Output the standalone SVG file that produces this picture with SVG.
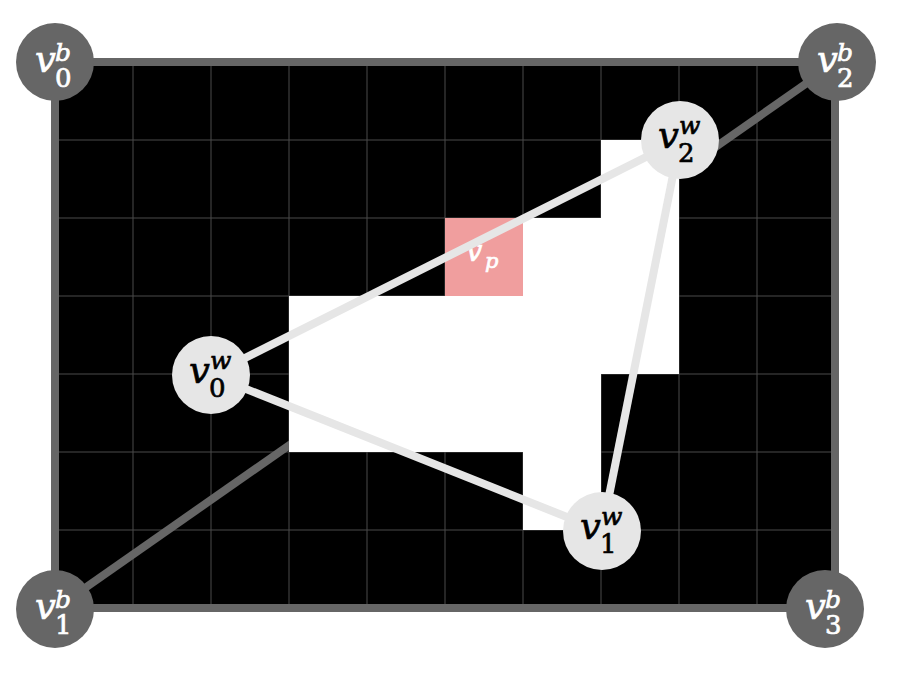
<svg xmlns="http://www.w3.org/2000/svg" width="902" height="676" viewBox="0 0 902 676">
<style>
.grid line{stroke:#4a4a4a;stroke-width:1}
.dk{fill:#666666}
.lt{fill:#e6e6e6}
.v{font-style:italic;font-size:37px}
.sup{font-style:italic;font-size:25px}
.sub{font-size:26px}
.wt{fill:#ffffff;stroke:#ffffff;stroke-width:0.7}
.bk{fill:#000000;stroke:#000000;stroke-width:0.7}
.edge-d{stroke:#666666;stroke-width:8;fill:none}
.edge-l{stroke:#e6e6e6;stroke-width:8;fill:none}
</style>
<defs>
<path id="cells" d="M601 140H679V374H601V530H523V452H289V296H445V218H601Z"/>
<mask id="cellmask" maskUnits="userSpaceOnUse" x="0" y="0" width="902" height="676">
<rect x="0" y="0" width="902" height="676" fill="#fff"/>
<use href="#cells" fill="#000"/>
</mask>
</defs>
<rect width="902" height="676" fill="#ffffff"/>
<g id="board">
<rect x="55" y="62" width="780" height="546" fill="#000000"/>
<g class="grid">
<line x1="133" y1="62" x2="133" y2="608"/>
<line x1="211" y1="62" x2="211" y2="608"/>
<line x1="289" y1="62" x2="289" y2="608"/>
<line x1="367" y1="62" x2="367" y2="608"/>
<line x1="445" y1="62" x2="445" y2="608"/>
<line x1="523" y1="62" x2="523" y2="608"/>
<line x1="601" y1="62" x2="601" y2="608"/>
<line x1="679" y1="62" x2="679" y2="608"/>
<line x1="757" y1="62" x2="757" y2="608"/>
<line x1="55" y1="140" x2="835" y2="140"/>
<line x1="55" y1="218" x2="835" y2="218"/>
<line x1="55" y1="296" x2="835" y2="296"/>
<line x1="55" y1="374" x2="835" y2="374"/>
<line x1="55" y1="452" x2="835" y2="452"/>
<line x1="55" y1="530" x2="835" y2="530"/>
</g>
<use href="#cells" fill="#ffffff"/>
<rect x="55" y="62" width="780" height="546" fill="none" stroke="#666666" stroke-width="8"/>
</g>
<g id="vp">
<rect x="445" y="218" width="78" height="78" fill="#f09e9e"/>
<text class="wt" font-family="DejaVu Serif, serif"><tspan class="v" x="466" y="261" style="font-size:29px">v</tspan><tspan class="sup" x="485" y="268" style="font-size:21px">p</tspan></text>
</g>
<g id="connectors">
<line class="edge-d" x1="55" y1="609" x2="837" y2="62" mask="url(#cellmask)"/>
<line class="edge-l" x1="211" y1="375" x2="680" y2="140"/>
<line class="edge-l" x1="211" y1="375" x2="602" y2="531"/>
<line class="edge-l" x1="602" y1="531" x2="680" y2="140"/>
</g>
<g id="v0b">
<circle class="dk" cx="55" cy="62" r="39"/>
<text class="wt" font-family="DejaVu Serif, serif"><tspan class="v" x="35" y="72">v</tspan><tspan class="sup" x="55" y="61">b</tspan><tspan class="sub" x="55" y="87">0</tspan></text>
</g>
<g id="v1b">
<circle class="dk" cx="55" cy="609" r="39"/>
<text class="wt" font-family="DejaVu Serif, serif"><tspan class="v" x="35" y="619">v</tspan><tspan class="sup" x="55" y="608">b</tspan><tspan class="sub" x="55" y="634">1</tspan></text>
</g>
<g id="v2b">
<circle class="dk" cx="837" cy="62" r="39"/>
<text class="wt" font-family="DejaVu Serif, serif"><tspan class="v" x="817" y="72">v</tspan><tspan class="sup" x="837" y="61">b</tspan><tspan class="sub" x="837" y="87">2</tspan></text>
</g>
<g id="v3b">
<circle class="dk" cx="825" cy="609" r="39"/>
<text class="wt" font-family="DejaVu Serif, serif"><tspan class="v" x="805" y="619">v</tspan><tspan class="sup" x="825" y="608">b</tspan><tspan class="sub" x="825" y="634">3</tspan></text>
</g>
<g id="v0w">
<circle class="lt" cx="211" cy="375" r="39"/>
<text class="bk" font-family="DejaVu Serif, serif"><tspan class="v" x="189" y="383">v</tspan><tspan class="sup" x="210" y="369">w</tspan><tspan class="sub" x="209" y="397">0</tspan></text>
</g>
<g id="v1w">
<circle class="lt" cx="602" cy="531" r="39"/>
<text class="bk" font-family="DejaVu Serif, serif"><tspan class="v" x="580" y="539">v</tspan><tspan class="sup" x="601" y="525">w</tspan><tspan class="sub" x="600" y="553">1</tspan></text>
</g>
<g id="v2w">
<circle class="lt" cx="680" cy="140" r="39"/>
<text class="bk" font-family="DejaVu Serif, serif"><tspan class="v" x="658" y="148">v</tspan><tspan class="sup" x="679" y="134">w</tspan><tspan class="sub" x="678" y="162">2</tspan></text>
</g>
</svg>
